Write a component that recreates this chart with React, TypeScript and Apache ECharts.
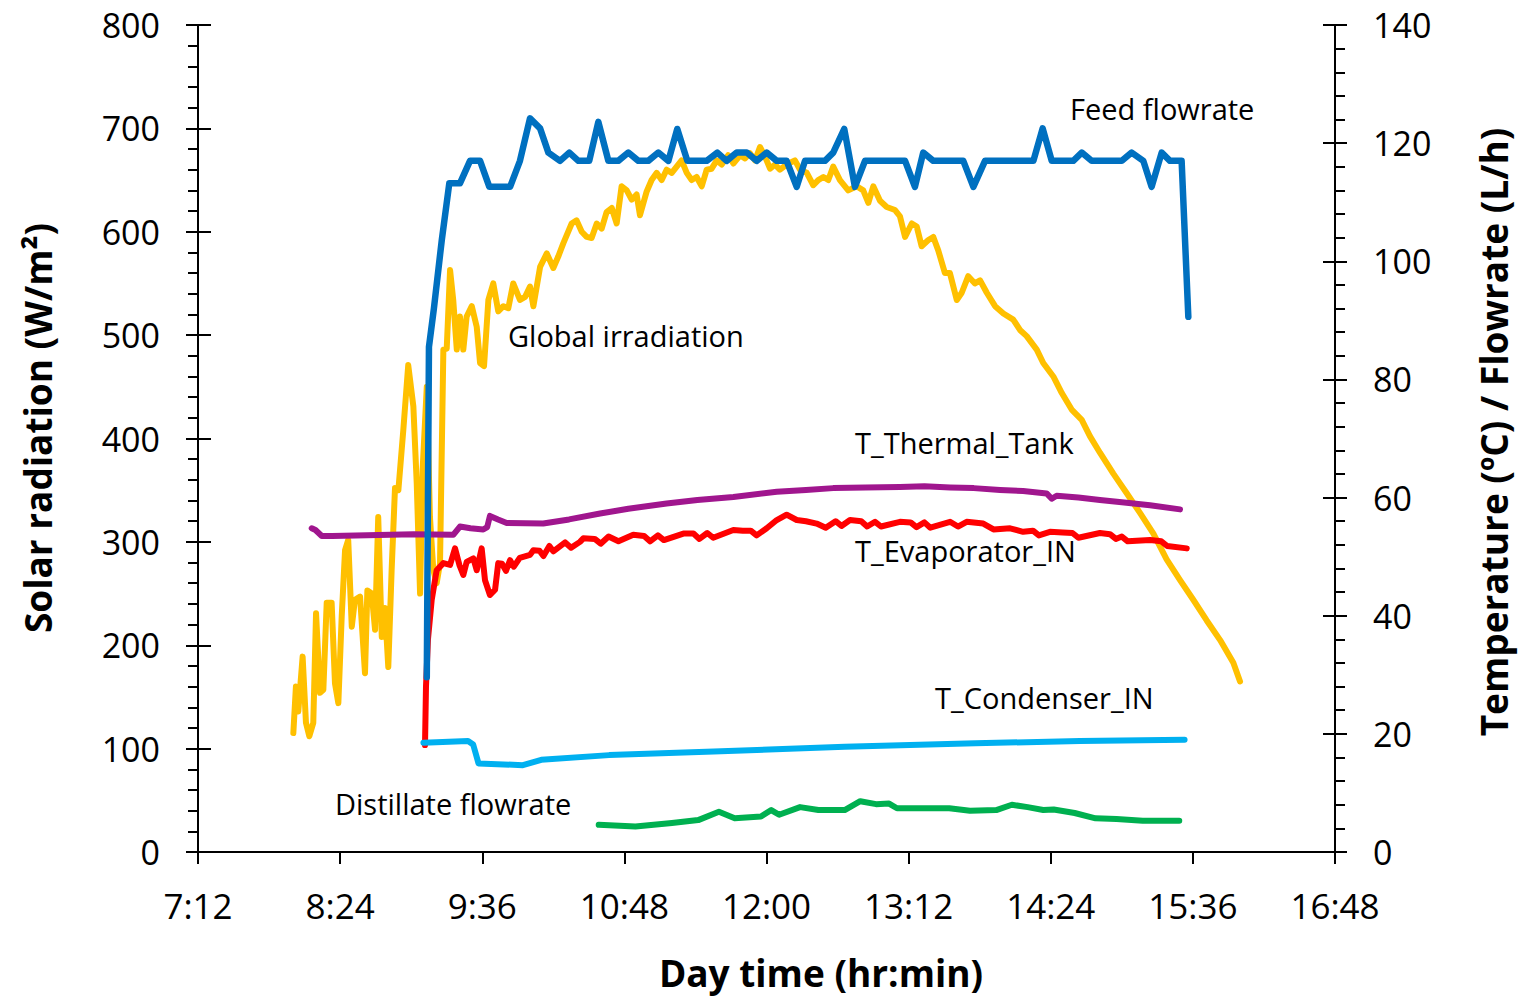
import React, { useEffect, useRef } from "react";
import * as echarts from "echarts";

// ---- time axis (minutes since midnight) ----
const xMin = 432; // 7:12
const xMax = 1008; // 16:48
const xStep = 72;

// ---- Global irradiation (W/m2, left axis) ----
const irrTime = [
  480.3, 481.6, 482.8, 485.0, 486.7, 488.4, 490.4, 491.8, 493.8, 495.5, 497.2, 499.7, 501.4, 503.1, 504.8,
  506.5, 508.1, 509.9, 511.5, 514.1, 516.6, 517.8, 520.0, 521.7, 523.3, 525.1, 526.7, 528.4, 530.1, 531.8,
  533.5, 536.0, 538.5, 541.1, 542.8, 544.5, 545.8, 547.9, 549.5, 551.2, 552.9, 554.6, 556.3, 558.0, 559.7,
  561.3, 563.1, 564.7, 566.4, 568.1, 570.7, 573.2, 574.9, 576.9, 579.1, 581.6, 584.1, 586.7, 589.2, 591.7,
  595.1, 597.7, 600.2, 601.9, 605.3, 608.7, 612.0, 614.5, 617.1, 621.3, 623.8, 626.4, 628.9, 631.4, 634.0,
  636.5, 639.0, 641.6, 644.1, 646.6, 649.2, 651.7, 654.2, 655.9, 659.3, 661.8, 664.4, 666.9, 669.4, 672.0,
  674.5, 677.0, 679.6, 682.1, 684.6, 687.2, 689.7, 692.2, 694.8, 697.3, 700.6, 703.2, 706.6, 709.1, 711.6,
  714.2, 716.7, 719.2, 721.8, 724.3, 726.8, 730.2, 734.4, 737.0, 740.4, 743.7, 746.2, 748.8, 751.3, 753.8,
  757.2, 761.4, 765.7, 769.0, 771.6, 774.1, 777.5, 780.9, 785.1, 787.6, 790.2, 793.6, 796.1, 798.6, 802.0,
  804.5, 807.0, 810.4, 812.9, 816.4, 818.9, 822.2, 825.6, 828.2, 831.6, 835.8, 840.0, 845.0, 848.4, 851.8,
  856.9, 860.2, 865.3, 869.6, 874.6, 879.7, 883.9, 889.0, 895.7, 902.5, 909.2, 916.0, 922.7, 929.5, 936.2,
  943.0, 949.8, 956.5, 959.9,
];
const irrValue = [
  115, 160, 136, 189, 125, 112, 125, 231, 154, 157, 241, 241, 163, 144, 228,
  292, 302, 218, 244, 247, 173, 253, 250, 215, 324, 208, 236, 179, 273, 352,
  350, 408, 471, 431, 357, 250, 370, 450, 324, 273, 260, 279, 486, 487, 563,
  534, 486, 518, 486, 518, 528, 508, 473, 470, 534, 550, 523, 528, 526, 550,
  534, 537, 547, 528, 566, 579, 565, 576, 589, 608, 611, 600, 595, 594, 608,
  603, 619, 623, 608, 644, 640, 631, 636, 616, 639, 650, 657, 650, 660, 657,
  663, 669, 657, 650, 653, 644, 660, 661, 669, 665, 674, 666, 674, 671, 676,
  669, 682, 673, 661, 665, 660, 665, 669, 660, 657, 645, 650, 653, 650, 663,
  650, 640, 644, 640, 628, 644, 630, 624, 621, 615, 595, 608, 605, 586, 592,
  595, 582, 560, 560, 534, 541, 557, 550, 553, 541, 528, 521, 515, 505, 499,
  486, 473, 460, 444, 428, 418, 402, 386, 366, 347, 328, 308, 283, 263, 244,
  224, 205, 183, 165,
];

// ---- Feed flowrate (L/h, right axis) ----
const feedTime = [
  547.9, 549.0, 551.5, 555.5, 559.3, 564.7, 569.8, 574.9, 579.6, 590.1, 595.1, 600.2, 605.3, 609.5, 615.4,
  620.1, 624.7, 630.2, 634.8, 639.9, 644.9, 650.0, 655.1, 660.1, 665.2, 670.3, 674.8, 679.9, 689.7, 695.1,
  699.8, 704.9, 710.0, 715.0, 720.1, 725.2, 730.2, 735.3, 739.5, 749.6, 753.8, 759.4, 764.8, 769.9, 790.2,
  795.2, 799.4, 804.5, 819.7, 824.8, 830.7, 855.2, 859.9, 864.5, 875.4, 879.7, 884.7, 900.0, 905.0, 910.9,
  915.1, 920.2, 924.4, 930.3, 933.7,
];
const feedValue = [
  29.6, 85.5, 92.0, 103.6, 113.2, 113.2, 117.0, 117.0, 112.6, 112.6, 117.0, 124.2, 122.5, 118.4, 117.0,
  118.4, 117.0, 117.0, 123.6, 117.0, 117.0, 118.4, 117.0, 117.0, 118.4, 117.0, 122.4, 117.0, 117.0, 118.4,
  117.0, 118.4, 118.4, 117.0, 118.4, 117.0, 117.0, 112.6, 117.0, 117.0, 118.4, 122.4, 112.6, 117.0, 117.0,
  112.6, 118.4, 117.0, 117.0, 112.6, 117.0, 117.0, 122.5, 117.0, 117.0, 118.4, 117.0, 117.0, 118.4, 117.0,
  112.6, 118.4, 117.0, 117.0, 90.6,
];

// ---- T_Thermal_Tank (degC, right axis) ----
const tankTime = [
  489.6, 491.5, 494.7, 500.0, 541.1, 561.3, 564.7, 570.0, 576.5, 578.5, 579.9, 584.0, 588.4, 606.9, 620.0,
  635.7, 650.0, 669.4, 685.0, 703.2, 725.2, 740.0, 753.8, 770.0, 787.6, 800.0, 813.0, 825.0, 838.3, 850.0,
  861.9, 864.5, 867.0, 878.0, 888.9, 900.0, 914.3, 929.5,
];
const tankValue = [
  54.8, 54.5, 53.5, 53.5, 53.8, 53.7, 55.1, 54.8, 54.6, 55.0, 56.9, 56.3, 55.7, 55.6, 56.3,
  57.3, 58.1, 59.0, 59.6, 60.1, 61.0, 61.3, 61.6, 61.7, 61.8, 61.9, 61.7, 61.6, 61.3, 61.1,
  60.7, 59.8, 60.3, 60.0, 59.6, 59.2, 58.7, 58.0,
];

// ---- T_Evaporator_IN (degC, right axis) ----
const evapTime = [
  547.0, 547.5, 548.5, 550.4, 552.9, 556.3, 559.7, 562.2, 564.5, 566.4, 568.1, 571.5, 573.2, 575.7, 577.4,
  579.9, 582.5, 584.1, 586.0, 588.0, 590.1, 592.0, 595.0, 600.2, 601.9, 605.0, 607.0, 610.0, 612.0, 618.0,
  621.0, 625.5, 627.2, 633.0, 636.0, 640.0, 645.0, 652.5, 658.0, 661.0, 665.0, 668.0, 677.9, 683.0, 686.0,
  690.0, 693.0, 703.2, 708.0, 712.0, 715.0, 720.1, 725.2, 730.2, 735.3, 740.0, 745.4, 750.0, 755.0, 758.0,
  762.3, 768.0, 771.0, 775.0, 778.0, 787.6, 793.0, 796.0, 800.0, 803.0, 813.0, 817.0, 821.4, 829.8, 835.0,
  843.4, 850.0, 855.0, 858.0, 863.6, 870.0, 875.0, 878.0, 888.9, 894.0, 897.0, 900.0, 903.0, 914.3, 920.0,
  923.0, 932.9,
];
const evapValue = [
  18.1, 28.0, 36.0, 42.7, 47.7, 48.9, 48.6, 51.4, 48.5, 46.9, 49.1, 49.7, 47.7, 51.4, 46.0,
  43.5, 44.4, 48.9, 48.8, 47.6, 49.4, 48.3, 49.8, 50.3, 51.1, 51.0, 50.1, 51.8, 50.9, 52.4,
  51.5, 52.5, 53.1, 53.0, 52.2, 53.4, 52.6, 53.7, 53.5, 52.6, 53.6, 52.8, 53.9, 53.9, 53.0,
  54.0, 53.2, 54.5, 54.4, 54.4, 53.6, 54.8, 56.2, 57.1, 56.2, 56.0, 55.6, 54.9, 56.0, 55.2,
  56.2, 56.0, 55.1, 55.9, 55.1, 55.9, 55.8, 55.0, 55.8, 54.9, 55.9, 55.1, 55.9, 55.6, 54.6,
  54.8, 54.2, 54.4, 53.6, 54.2, 54.1, 54.0, 53.2, 54.0, 53.8, 53.0, 53.4, 52.6, 52.8, 52.6,
  51.8, 51.4,
];

// ---- T_Condenser_IN (degC, right axis) ----
const condTime = [546.2, 568.8, 571.4, 574.1, 596.6, 605.9, 640.3, 693.3, 759.6, 825.8, 878.8, 931.8];
const condValue = [18.5, 18.8, 18.2, 15.0, 14.7, 15.6, 16.4, 17.0, 17.8, 18.4, 18.8, 19.0];

// ---- Distillate flowrate (L/h, right axis) ----
const distTime = [
  635.0, 653.6, 672.1, 685.4, 695.9, 703.9, 717.2, 722.4, 726.4, 737.0, 746.3, 759.6, 767.5, 775.5, 782.1,
  786.1, 812.6, 823.1, 836.4, 844.3, 852.3, 860.2, 865.5, 876.1, 886.7, 897.3, 910.6, 929.1,
];
const distValue = [
  4.6, 4.3, 4.9, 5.4, 6.8, 5.7, 6.0, 7.1, 6.3, 7.6, 7.1, 7.1, 8.6, 8.1, 8.2,
  7.4, 7.4, 7.0, 7.1, 8.0, 7.6, 7.1, 7.2, 6.6, 5.7, 5.6, 5.3, 5.3,
];

const FONT = "'Open Sans', sans-serif";

const pairs = (t: number[], v: number[]) => t.map((x, i) => [x, v[i]]);
const fmtTime = (v: number) => {
  const h = Math.floor(v / 60);
  const m = Math.round(v - h * 60);
  return `${h}:${String(m).padStart(2, "0")}`;
};

const line = (name: string, t: number[], v: number[], color: string, width: number, yAxisIndex: number) => ({
  name,
  type: "line",
  yAxisIndex,
  data: pairs(t, v),
  showSymbol: false,
  symbol: "none",
  lineStyle: { color, width, cap: "round", join: "round" },
  itemStyle: { color },
});

export default function App() {
  const ref = useRef<HTMLDivElement>(null);
  useEffect(() => {
    if (!ref.current) return;
    const chart = echarts.init(ref.current, null, { renderer: "svg" });
    const axisLine = { show: true, lineStyle: { color: "#000", width: 2 } };
    const tickStyle = { color: "#000", width: 2 };
    const annot = (text: string, x: number, y: number) => ({
      type: "text",
      x,
      y,
      style: { text, font: `29px ${FONT}`, fill: "#000", align: "left", verticalAlign: "middle" },
    });
    const option: any = {
      animation: false,
      backgroundColor: "#fff",
      grid: { left: 198, right: 185, top: 25, bottom: 144, containLabel: false },
      xAxis: [
        {
          type: "value",
          min: xMin,
          max: xMax,
          interval: xStep,
          position: "bottom",
          axisLine,
          axisTick: { show: true, inside: false, length: 12, lineStyle: tickStyle },
          axisLabel: { formatter: fmtTime, color: "#000", fontSize: 35, fontFamily: FONT, margin: 36 },
          splitLine: { show: false },
        },
        {
          type: "value",
          min: xMin,
          max: xMax,
          interval: xStep,
          position: "top",
          axisLine,
          axisTick: { show: false },
          axisLabel: { show: false },
          splitLine: { show: false },
        },
      ],
      yAxis: [
        {
          type: "value",
          min: 0,
          max: 800,
          interval: 100,
          position: "left",
          axisLine,
          axisTick: { show: true, inside: false, length: 12, lineStyle: tickStyle },
          minorTick: { show: true, splitNumber: 5, length: 10, lineStyle: tickStyle },
          axisLabel: { color: "#000", fontSize: 34, fontFamily: FONT, margin: 38 },
          splitLine: { show: false },
        },
        {
          type: "value",
          min: 0,
          max: 140,
          interval: 20,
          position: "right",
          axisLine,
          axisTick: { show: true, inside: false, length: 12, lineStyle: tickStyle },
          minorTick: { show: true, splitNumber: 5, length: 10, lineStyle: tickStyle },
          axisLabel: { color: "#000", fontSize: 34, fontFamily: FONT, margin: 38 },
          splitLine: { show: false },
        },
        {
          type: "value",
          min: 0,
          max: 800,
          interval: 100,
          position: "left",
          axisLine: { show: false },
          axisTick: { show: true, inside: true, length: 13, lineStyle: tickStyle },
          axisLabel: { show: false },
          splitLine: { show: false },
        },
        {
          type: "value",
          min: 0,
          max: 140,
          interval: 20,
          position: "right",
          axisLine: { show: false },
          axisTick: { show: true, inside: true, length: 12, lineStyle: tickStyle },
          axisLabel: { show: false },
          splitLine: { show: false },
        },
      ],
      series: [
        line("Global irradiation", irrTime, irrValue, "#FFC000", 6, 0),
        line("T_Thermal_Tank", tankTime, tankValue, "#A0168E", 6, 1),
        line("T_Evaporator_IN", evapTime, evapValue, "#FF0000", 6, 1),
        line("T_Condenser_IN", condTime, condValue, "#00B0F0", 6, 1),
        line("Distillate flowrate", distTime, distValue, "#00B050", 6, 1),
        line("Feed flowrate", feedTime, feedValue, "#0070C0", 6.5, 1),
      ],
      graphic: [
        annot("Feed flowrate", 1070, 108),
        annot("Global irradiation", 508, 335),
        annot("T_Thermal_Tank", 855, 442),
        annot("T_Evaporator_IN", 855, 550),
        annot("T_Condenser_IN", 935, 697),
        annot("Distillate flowrate", 335, 803),
        { type: "text", x: 37, y: 428, rotation: Math.PI / 2, style: { text: "Solar radiation (W/m²)", font: `bold 37px ${FONT}`, fill: "#000", align: "center", verticalAlign: "middle" } },
        { type: "text", x: 1493, y: 432, rotation: Math.PI / 2, style: { text: "Temperature (ºC) / Flowrate (L/h)", font: `bold 37px ${FONT}`, fill: "#000", align: "center", verticalAlign: "middle" } },
        { type: "text", x: 821, y: 972, style: { text: "Day time (hr:min)", font: `bold 37px ${FONT}`, fill: "#000", align: "center", verticalAlign: "middle" } },
      ],
    };
    chart.setOption(option);
    return () => chart.dispose();
  }, []);
  return <div ref={ref} style={{ position: "fixed", left: 0, top: 0, width: 1520, height: 996, background: "#fff" }} />;
}
